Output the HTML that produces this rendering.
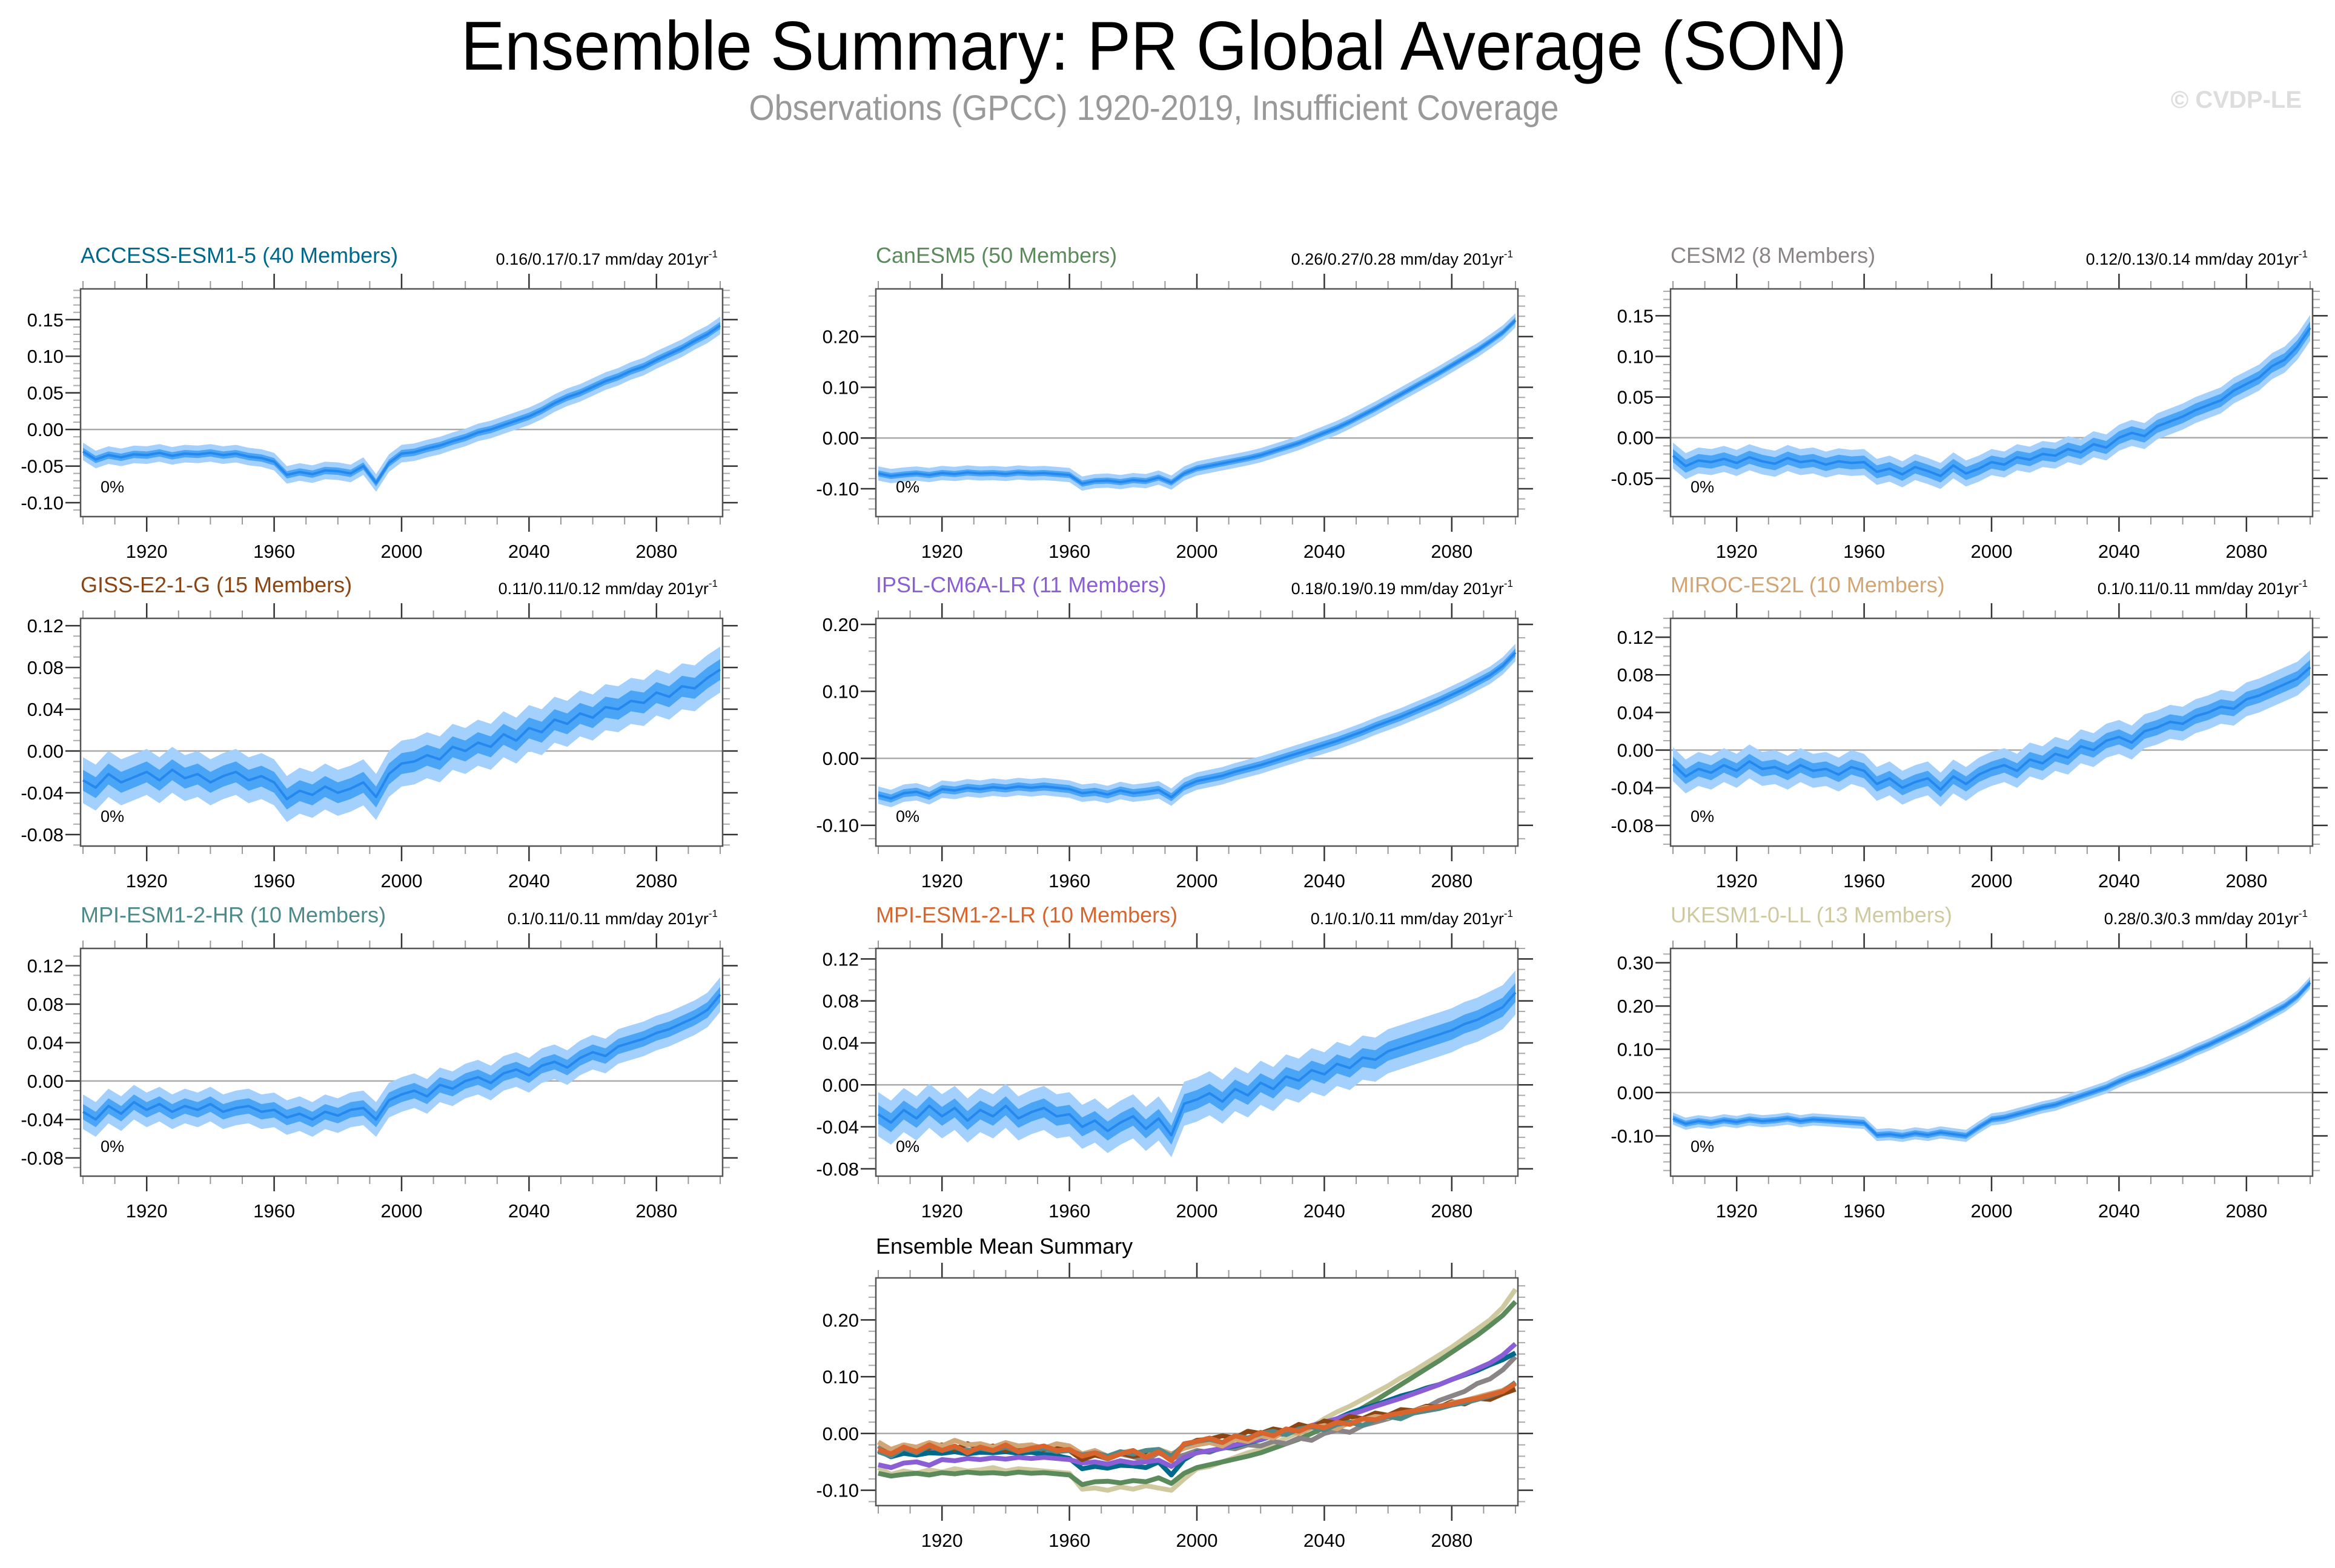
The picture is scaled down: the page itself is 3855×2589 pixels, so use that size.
<!DOCTYPE html>
<html><head><meta charset="utf-8"><style>
html,body{margin:0;padding:0;background:#fff;}
svg{display:block;font-family:"Liberation Sans",sans-serif;}
</style></head><body>
<svg id="fig" width="3855" height="2589" viewBox="0 0 3855 2589" xmlns="http://www.w3.org/2000/svg">
<text x="1905" y="115" font-size="114" text-anchor="middle" textLength="2288" lengthAdjust="spacingAndGlyphs">Ensemble Summary: PR Global Average (SON)</text>
<text x="1905" y="198" font-size="58" fill="#999" text-anchor="middle" textLength="1337" lengthAdjust="spacingAndGlyphs">Observations (GPCC) 1920-2019, Insufficient Coverage</text>
<text x="3800" y="178" font-size="40" font-weight="bold" fill="#ddd" text-anchor="end">© CVDP-LE</text>
<g id="panels"></g>
</svg>
<script>
// years sampled every 4 years, 1900..2100
const years = [1900,1904,1908,1912,1916,1920,1924,1928,1932,1936,1940,1944,1948,1952,1956,1960,1964,1968,1972,1976,1980,1984,1988,1992,1996,2000,2004,2008,2012,2016,2020,2024,2028,2032,2036,2040,2044,2048,2052,2056,2060,2064,2068,2072,2076,2080,2084,2088,2092,2096,2100];
const accessMean = [-0.030,-0.041,-0.035,-0.038,-0.034,-0.035,-0.032,-0.036,-0.033,-0.034,-0.032,-0.035,-0.033,-0.037,-0.039,-0.044,-0.062,-0.058,-0.061,-0.056,-0.057,-0.060,-0.050,-0.073,-0.046,-0.033,-0.031,-0.026,-0.022,-0.016,-0.011,-0.004,0.000,0.006,0.012,0.018,0.026,0.036,0.044,0.050,0.058,0.066,0.072,0.080,0.086,0.095,0.103,0.111,0.121,0.130,0.142];
const canesmMean = [-0.070,-0.075,-0.072,-0.070,-0.073,-0.069,-0.071,-0.068,-0.070,-0.069,-0.071,-0.068,-0.070,-0.069,-0.071,-0.073,-0.090,-0.085,-0.084,-0.087,-0.083,-0.085,-0.078,-0.088,-0.070,-0.060,-0.055,-0.050,-0.045,-0.040,-0.034,-0.026,-0.018,-0.010,0.000,0.010,0.020,0.032,0.045,0.058,0.072,0.086,0.100,0.114,0.128,0.143,0.158,0.173,0.190,0.208,0.232];
const cesmMean = [-0.022,-0.035,-0.028,-0.030,-0.026,-0.031,-0.024,-0.029,-0.032,-0.025,-0.030,-0.028,-0.033,-0.029,-0.031,-0.030,-0.042,-0.038,-0.045,-0.036,-0.041,-0.047,-0.034,-0.044,-0.038,-0.030,-0.033,-0.024,-0.027,-0.020,-0.022,-0.014,-0.018,-0.008,-0.012,0.000,0.006,0.002,0.014,0.020,0.026,0.034,0.040,0.046,0.058,0.066,0.074,0.088,0.096,0.112,0.135];
const gissMean = [-0.028,-0.035,-0.022,-0.030,-0.025,-0.020,-0.028,-0.018,-0.026,-0.022,-0.030,-0.024,-0.020,-0.028,-0.024,-0.030,-0.046,-0.038,-0.042,-0.034,-0.040,-0.036,-0.030,-0.044,-0.022,-0.012,-0.010,-0.004,-0.008,0.004,0.000,0.008,0.004,0.016,0.010,0.022,0.018,0.030,0.026,0.036,0.032,0.042,0.040,0.048,0.046,0.056,0.052,0.062,0.060,0.070,0.078];
const ipslMean = [-0.055,-0.060,-0.052,-0.050,-0.056,-0.046,-0.048,-0.044,-0.046,-0.043,-0.045,-0.042,-0.044,-0.042,-0.044,-0.046,-0.052,-0.050,-0.054,-0.048,-0.052,-0.050,-0.047,-0.058,-0.042,-0.034,-0.030,-0.026,-0.020,-0.015,-0.010,-0.004,0.002,0.008,0.014,0.020,0.026,0.033,0.040,0.048,0.055,0.062,0.070,0.078,0.086,0.095,0.104,0.114,0.124,0.138,0.158];
const mirocMean = [-0.015,-0.028,-0.020,-0.024,-0.016,-0.022,-0.012,-0.020,-0.018,-0.024,-0.016,-0.022,-0.020,-0.026,-0.018,-0.022,-0.036,-0.030,-0.040,-0.034,-0.030,-0.042,-0.028,-0.036,-0.026,-0.020,-0.016,-0.022,-0.010,-0.014,-0.004,-0.008,0.004,0.000,0.010,0.014,0.008,0.020,0.024,0.030,0.028,0.036,0.040,0.046,0.044,0.054,0.058,0.064,0.070,0.076,0.088];
const mpihrMean = [-0.032,-0.040,-0.026,-0.034,-0.022,-0.030,-0.024,-0.032,-0.026,-0.030,-0.024,-0.032,-0.028,-0.026,-0.032,-0.030,-0.038,-0.034,-0.040,-0.032,-0.036,-0.030,-0.028,-0.040,-0.020,-0.014,-0.010,-0.016,-0.004,-0.008,0.000,0.004,-0.002,0.008,0.012,0.006,0.016,0.020,0.014,0.024,0.030,0.026,0.036,0.040,0.044,0.050,0.054,0.060,0.066,0.074,0.090];
const mpilrMean = [-0.028,-0.036,-0.024,-0.032,-0.020,-0.030,-0.022,-0.034,-0.024,-0.030,-0.020,-0.032,-0.026,-0.022,-0.030,-0.028,-0.040,-0.034,-0.044,-0.036,-0.030,-0.042,-0.032,-0.048,-0.018,-0.014,-0.008,-0.016,-0.004,-0.010,0.002,-0.004,0.008,0.004,0.014,0.010,0.020,0.016,0.026,0.024,0.032,0.036,0.040,0.044,0.048,0.052,0.058,0.062,0.068,0.074,0.088];
const ukesmMean = [-0.060,-0.072,-0.066,-0.070,-0.064,-0.068,-0.062,-0.066,-0.064,-0.060,-0.066,-0.062,-0.064,-0.066,-0.068,-0.070,-0.098,-0.096,-0.100,-0.094,-0.098,-0.092,-0.096,-0.100,-0.080,-0.062,-0.058,-0.050,-0.042,-0.034,-0.028,-0.018,-0.008,0.002,0.012,0.026,0.038,0.048,0.060,0.072,0.084,0.098,0.110,0.124,0.138,0.152,0.168,0.184,0.200,0.222,0.254];
const modelNames = ["ACCESS-ESM1-5 (40 Members)","CanESM5 (50 Members)","CESM2 (8 Members)","GISS-E2-1-G (15 Members)","IPSL-CM6A-LR (11 Members)","MIROC-ES2L (10 Members)","MPI-ESM1-2-HR (10 Members)","MPI-ESM1-2-LR (10 Members)","UKESM1-0-LL (13 Members)"];
const trendLabels = ["0.16/0.17/0.17","0.26/0.27/0.28","0.12/0.13/0.14","0.11/0.11/0.12","0.18/0.19/0.19","0.1/0.11/0.11","0.1/0.11/0.11","0.1/0.1/0.11","0.28/0.3/0.3"];
const innerSpread = [0.005,0.006,0.008,0.010,0.006,0.008,0.008,0.009,0.007];
const outerSpread = [0.012,0.014,0.016,0.022,0.013,0.018,0.018,0.021,0.014];
const yMinVals = [-0.119,-0.155,-0.097,-0.091,-0.131,-0.102,-0.099,-0.087,-0.193];
const yMaxVals = [0.192,0.294,0.183,0.127,0.209,0.140,0.138,0.130,0.333];
const yTickLabels = [["-0.10","-0.05","0.00","0.05","0.10","0.15"],["-0.10","0.00","0.10","0.20"],["-0.05","0.00","0.05","0.10","0.15"],["-0.08","-0.04","0.00","0.04","0.08","0.12"],["-0.10","0.00","0.10","0.20"],["-0.08","-0.04","0.00","0.04","0.08","0.12"],["-0.08","-0.04","0.00","0.04","0.08","0.12"],["-0.08","-0.04","0.00","0.04","0.08","0.12"],["-0.10","0.00","0.10","0.20","0.30"]];
const yMinorSteps = [0.01,0.02,0.01,0.01,0.02,0.01,0.01,0.01,0.02];
const summaryTicks = ["-0.10","0.00","0.10","0.20"];
const summaryYMin = -0.127, summaryYMax = 0.274;
const xTickLabels = ["1920","1960","2000","2040","2080"];

const allMeans = [accessMean,canesmMean,cesmMean,gissMean,ipslMean,mirocMean,mpihrMean,mpilrMean,ukesmMean];
const colors = ["#00688b","#5b8a5b","#8a8486","#8b4513","#8a5fd6","#d2a574","#4f8a8a","#d8642e","#cfc9a0"];

const NS="http://www.w3.org/2000/svg";
const root=document.getElementById('panels');
function mk(tag,attrs,parent){const e=document.createElementNS(NS,tag);for(const k in attrs)e.setAttribute(k,attrs[k]);(parent||root).appendChild(e);return e;}

const colX=[133,1446,2758], rowY=[477,1021,1566], W=1060, H=376;

function drawPanel(px,py,ymin,ymax,ticks,minorStep,idx){
  const g=mk('g',{});
  
  
  const xs=y=>px+4+(y-1900)/200*(W-8);
  const ys=v=>py+H-(v-ymin)/(ymax-ymin)*H;
  for(let yr=1900;yr<=2100;yr+=10){
    const major=(yr-1920)%40===0;
    const L=major?25:13, x=xs(yr);
    const t1=mk('line',{x1:x,x2:x,y1:py,y2:py-L,stroke:major?'#333':'#999','stroke-width':major?2.5:2},g);
    
    
    const t2=mk('line',{x1:x,x2:x,y1:py+H,y2:py+H+L,stroke:major?'#333':'#999','stroke-width':major?2.5:2},g);
    
    
  }
  xTickLabels.forEach(l=>{
    const t=mk('text',{x:xs(+l),y:py+H+68,'font-size':31,'text-anchor':'middle'},g);
    t.textContent=l;
    
    
  });
  const start=Math.ceil(ymin/minorStep-1e-6);
  for(let k=start;k*minorStep<=ymax+1e-9;k++){
    const v=k*minorStep, y=ys(v);
    const isMajor=ticks.some(t=>Math.abs(+t-v)<1e-6);
    const L=isMajor?25:12;
    const a=mk('line',{x1:px,x2:px-L,y1:y,y2:y,stroke:isMajor?'#333':'#aaa','stroke-width':isMajor?2.5:2},g);
    
    
    const b=mk('line',{x1:px+W,x2:px+W+L,y1:y,y2:y,stroke:isMajor?'#333':'#aaa','stroke-width':isMajor?2.5:2},g);
    
    
  }
  ticks.forEach(l=>{
    const t=mk('text',{x:px-28,y:ys(+l)+11,'font-size':31,'text-anchor':'end'},g);
    t.textContent=l;
    
    
  });
  const z=mk('line',{x1:px,x2:px+W,y1:ys(0),y2:ys(0),stroke:'#aaa','stroke-width':2.5},g);
  
  
  return {g,xs,ys};
}

function band(g,xs,ys,mean,lo,fill,name){
  let d='';
  mean.forEach((v,i)=>{d+=(i?'L':'M')+xs(years[i]).toFixed(1)+','+ys(v+lo).toFixed(1);});
  for(let i=mean.length-1;i>=0;i--)d+='L'+xs(years[i]).toFixed(1)+','+ys(mean[i]-lo).toFixed(1);
  const p=mk('path',{d:d+'Z',fill:fill},g);
  
  
}
function line(g,xs,ys,mean,stroke,w,name){
  const d=mean.map((v,i)=>(i?'L':'M')+xs(years[i]).toFixed(1)+','+ys(v).toFixed(1)).join('');
  const p=mk('path',{d:d,fill:'none',stroke:stroke,'stroke-width':w,'stroke-linejoin':'round'},g);
  
  
}
function frame(g,px,py){
  const r=mk('rect',{x:px,y:py,width:W,height:H,fill:'none',stroke:'#555','stroke-width':2.5},g);
  
  
}

for(let i=0;i<9;i++){
  const px=colX[i%3], py=rowY[Math.floor(i/3)];
  const {g,xs,ys}=drawPanel(px,py,yMinVals[i],yMaxVals[i],yTickLabels[i],yMinorSteps[i],i);
  band(g,xs,ys,allMeans[i],outerSpread[i],'#a3d0fc','outer-spread-band');
  band(g,xs,ys,allMeans[i],innerSpread[i],'#4aa5f7','inner-spread-band');
  line(g,xs,ys,allMeans[i],'#2588ee',4,'ensemble-mean-line');
  frame(g,px,py);
  const t=mk('text',{x:px,y:py-43,'font-size':36,fill:colors[i]},g);
  t.textContent=modelNames[i];
  
  
  const tr=mk('text',{x:px+W-8,y:py-40,'font-size':27,'text-anchor':'end'},g);
  tr.textContent=trendLabels[i]+' mm/day 201yr';
  const sup=mk('tspan',{'font-size':17,dy:-12},tr);
  sup.textContent='-1';
  
  
  const pc=mk('text',{x:px+33,y:py+H-40,'font-size':27},g);
  pc.textContent='0%';
  
  
}
{
  const px=1446, py=2110;
  const {g,xs,ys}=drawPanel(px,py,summaryYMin,summaryYMax,summaryTicks,0.02,-1);
  const order=[8,1,2,0,4,3,5,6,7];
  order.forEach(i=>line(g,xs,ys,allMeans[i],colors[i],8,'summary-line-'+modelNames[i].split(' ')[0].toLowerCase()));
  frame(g,px,py);
  const t=mk('text',{x:px,y:py-40,'font-size':36},g);
  t.textContent='Ensemble Mean Summary';
  
  
}
</script>
</body></html>
